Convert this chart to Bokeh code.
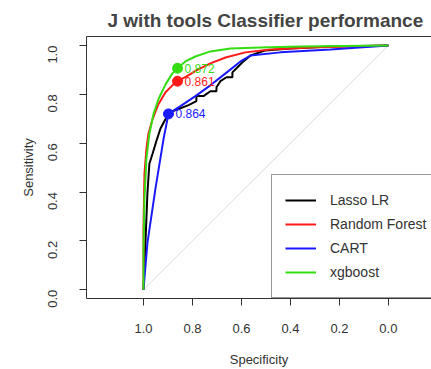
import math
from bokeh.plotting import figure
from bokeh.models import Range1d, LinearAxis, FixedTicker, NumeralTickFormatter
from bokeh.embed import file_html
from bokeh.resources import INLINE
from bokeh.core.properties import value

# ---- data ----
series_names = ["Lasso LR", "Random Forest", "CART", "xgboost"]
series_colors = ["#000000", "#ff1a1a", "#1a1aff", "#33dd11"]

lasso_spec = [1.0, 0.992, 0.984, 0.976, 0.963, 0.947, 0.931, 0.910, 0.890, 0.857, 0.816, 0.784,
              0.784, 0.755, 0.727, 0.702, 0.702, 0.686, 0.661, 0.637, 0.637, 0.612, 0.592, 0.563,
              0.502, 0.400, 0.237, 0.0]
lasso_sens = [0.0, 0.191, 0.394, 0.516, 0.557, 0.610, 0.659, 0.699, 0.728, 0.740, 0.756, 0.772,
              0.793, 0.793, 0.813, 0.813, 0.829, 0.854, 0.870, 0.870, 0.890, 0.915, 0.935, 0.959,
              0.980, 0.988, 0.996, 1.0]

rf_spec = [1.0, 1.0, 0.996, 0.988, 0.980, 0.963, 0.939, 0.910, 0.882, 0.861, 0.824, 0.784,
           0.727, 0.665, 0.584, 0.482, 0.318, 0.0]
rf_sens = [0.0, 0.252, 0.476, 0.577, 0.638, 0.699, 0.760, 0.809, 0.837, 0.854, 0.874, 0.898,
           0.927, 0.951, 0.972, 0.984, 0.992, 1.0]

cart_spec = [1.0, 0.984, 0.951, 0.918, 0.898, 0.849, 0.788, 0.727, 0.665, 0.604, 0.563, 0.441,
             0.237, 0.0]
cart_sens = [0.0, 0.191, 0.415, 0.618, 0.720, 0.752, 0.793, 0.837, 0.886, 0.935, 0.959, 0.972,
             0.984, 1.0]

xgb_spec = [1.0, 1.0, 0.996, 0.988, 0.976, 0.959, 0.939, 0.910, 0.882, 0.861, 0.829, 0.788,
            0.727, 0.645, 0.522, 0.359, 0.0]
xgb_sens = [0.0, 0.171, 0.374, 0.537, 0.638, 0.720, 0.780, 0.841, 0.886, 0.907, 0.935, 0.955,
            0.976, 0.988, 0.992, 0.996, 1.0]

# best thresholds (specificity, sensitivity, label)
thr_spec = [0.861, 0.898, 0.861]
thr_sens = [0.854, 0.720, 0.907]
thr_text = ["0.861", "0.864", "0.872"]
thr_colors = ["#ff1a1a", "#1a1aff", "#33dd11"]

diag_spec = [1.0, 0.0]
diag_sens = [0.0, 1.0]

x_ticks = [1.0, 0.8, 0.6, 0.4, 0.2, 0.0]
y_ticks = [0.0, 0.2, 0.4, 0.6, 0.8, 1.0]

FONT = "Liberation Sans"

p = figure(width=431, height=369, output_backend="svg", toolbar_location=None,
           x_range=Range1d(1.2327, -0.176), y_range=Range1d(-0.036, 1.037),
           min_border_left=86, min_border_right=0, min_border_top=36, min_border_bottom=69,
           title="J with tools Classifier performance")
p.title.text_font = FONT
p.title.text_font_size = "19px"
p.title.text_font_style = "bold"
p.title.align = "left"
p.title.offset = 21
p.title.standoff = 11
p.outline_line_color = None
p.xgrid.visible = False
p.ygrid.visible = False
p.background_fill_color = "white"
p.border_fill_color = "white"

xa = p.below[0]
ya = p.left[0]
for ax in (xa, ya):
    ax.axis_line_color = "#333333"
    ax.major_tick_line_color = "#333333"
    ax.minor_tick_line_color = None
    ax.major_tick_in = 0
    ax.major_tick_out = 7
    ax.major_label_text_font = FONT
    ax.major_label_text_font_size = "13px"
    ax.major_label_text_color = "#333333"
    ax.axis_label_text_font = FONT
    ax.axis_label_text_font_size = "13px"
    ax.axis_label_text_font_style = "normal"
    ax.axis_label_text_color = "#333333"
    ax.formatter = NumeralTickFormatter(format="0.0")

xa.ticker = FixedTicker(ticks=x_ticks)
ya.ticker = FixedTicker(ticks=y_ticks)
xa.axis_label = "Specificity"
ya.axis_label = "Sensitivity"
xa.major_label_standoff = 18
xa.axis_label_standoff = 16
ya.major_label_standoff = 27
ya.axis_label_standoff = 5
ya.major_label_orientation = math.pi / 2

# top frame line
top = LinearAxis(major_tick_line_color=None, minor_tick_line_color=None,
                 major_label_text_font_size="0px", axis_line_color="#333333",
                 ticker=FixedTicker(ticks=[]))
p.add_layout(top, "above")

p.line(diag_spec, diag_sens, line_color="#dcdcdc", line_width=1)

curves = [(lasso_spec, lasso_sens), (rf_spec, rf_sens), (cart_spec, cart_sens), (xgb_spec, xgb_sens)]
for (sx, sy), name, col in zip(curves, series_names, series_colors):
    p.line(sx, sy, line_color=col, line_width=2, legend_label=name)

p.scatter(thr_spec, thr_sens, marker="circle", size=10, fill_color=thr_colors, line_color=thr_colors)
p.text(thr_spec, thr_sens, text=thr_text, text_color=thr_colors, x_offset=7,
       text_baseline="middle", text_font=value(FONT), text_font_size="12px")

lg = p.legend[0]
lg.location = (185, 0)
lg.border_line_color = "#333333"
lg.border_line_width = 1
lg.background_fill_color = "white"
lg.background_fill_alpha = 1.0
lg.padding = 13
lg.margin = 0
lg.spacing = 0
lg.label_height = 24
lg.glyph_height = 24
lg.glyph_width = 31
lg.label_width = 130
lg.label_standoff = 14
lg.label_text_font = FONT
lg.label_text_font_size = "14px"
lg.label_text_color = "#333333"

open("out.html", "w").write(file_html(p, INLINE))
